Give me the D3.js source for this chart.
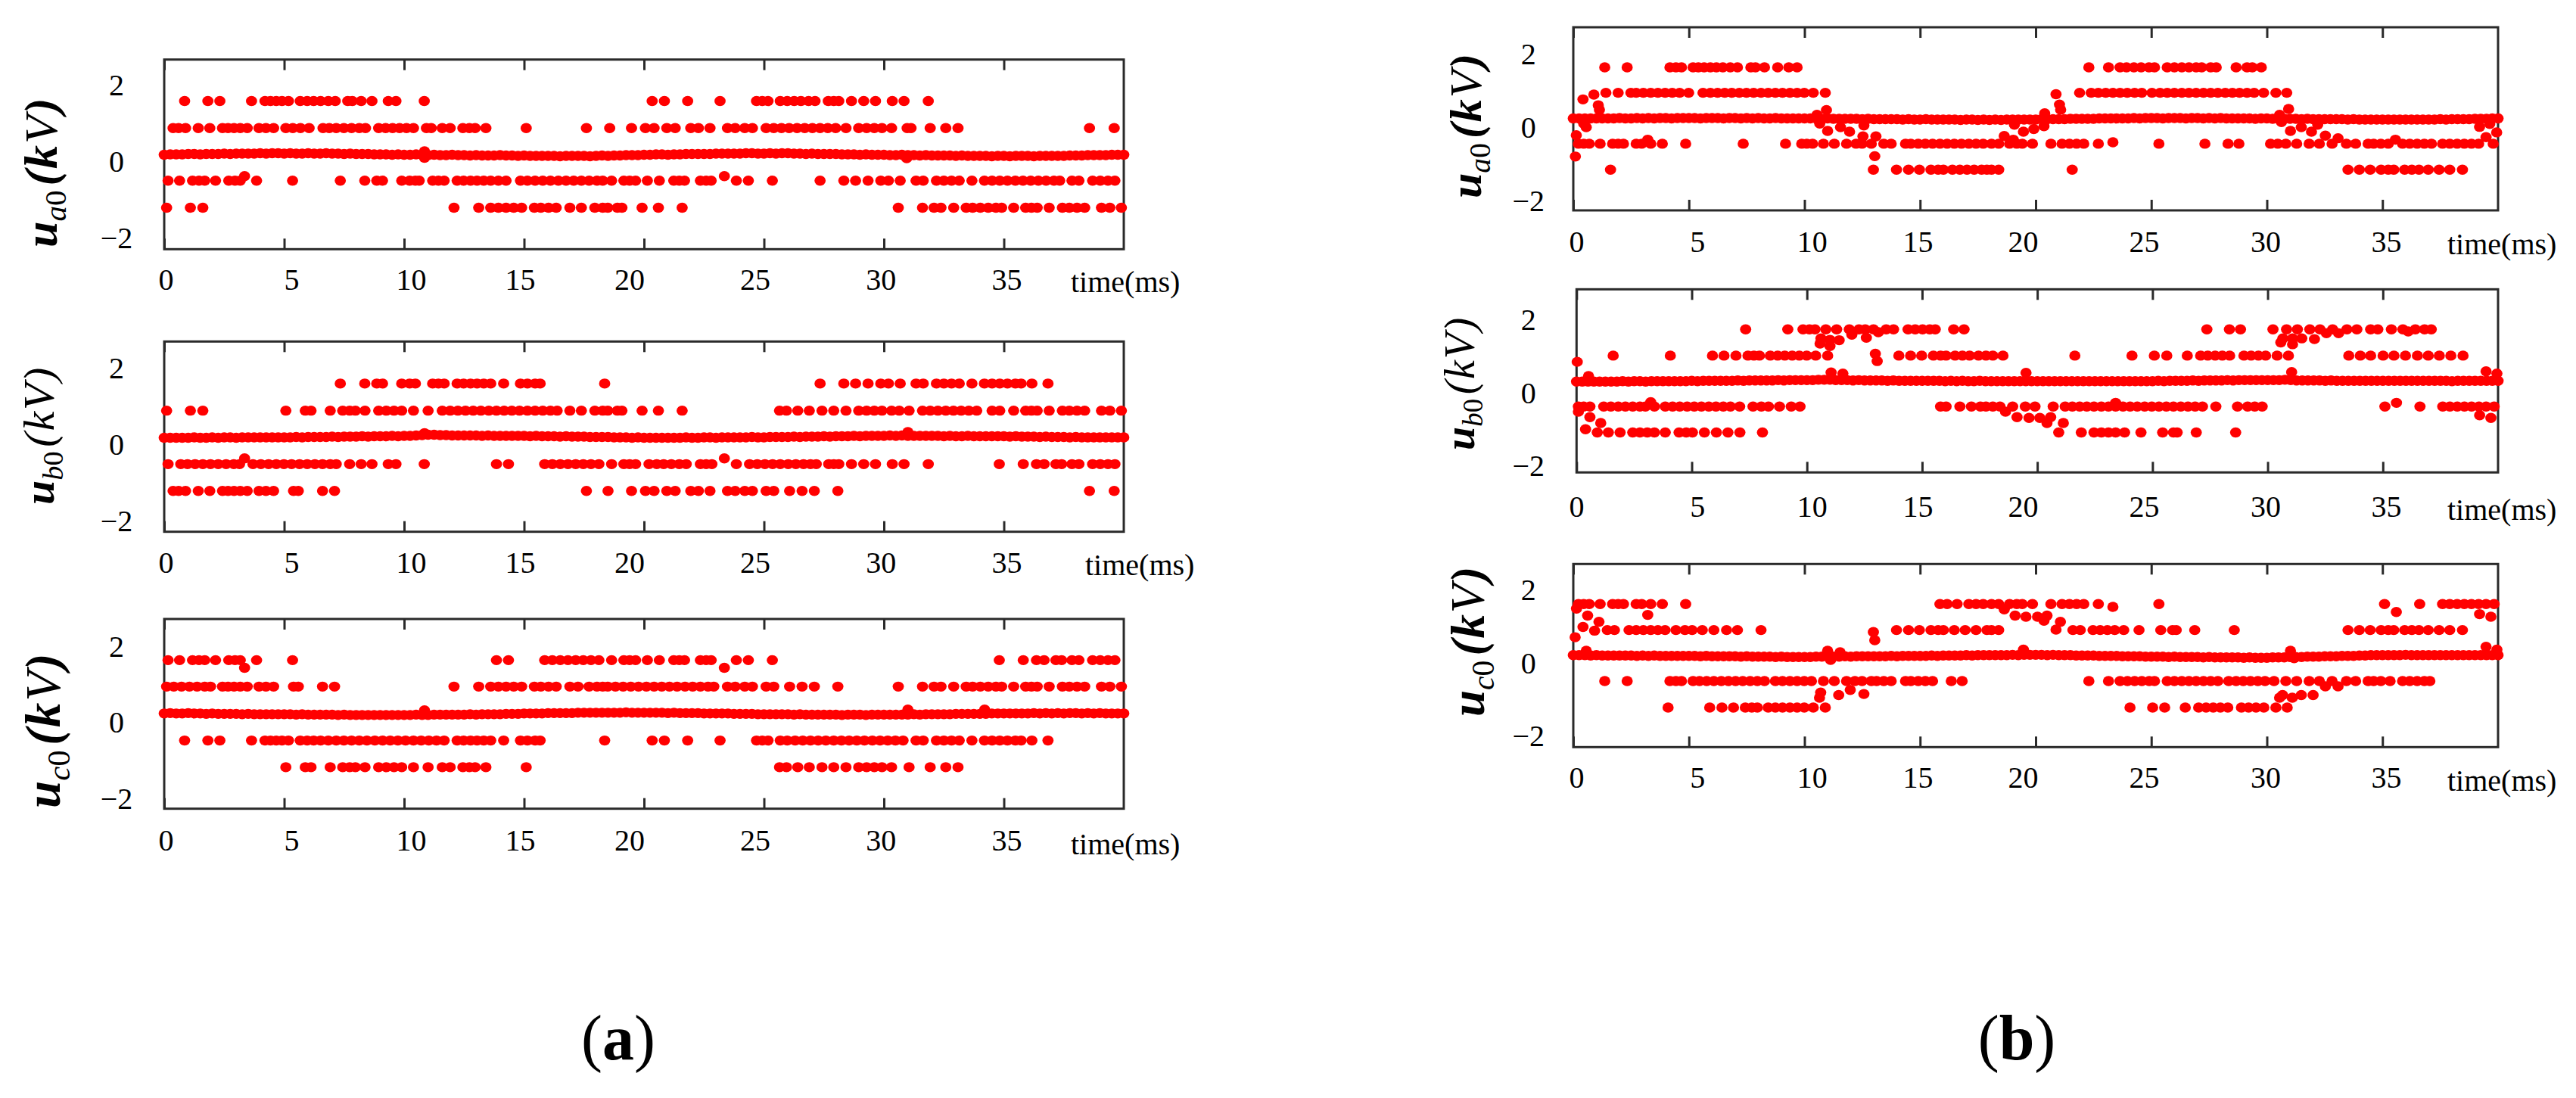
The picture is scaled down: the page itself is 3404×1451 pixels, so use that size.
<!DOCTYPE html>
<html>

<head>
  <meta charset="utf-8">
  <title>Arm voltage deviation, cases (a) and (b)</title>
  <script src="https://d3js.org/d3.v7.min.js"></script>
  <style>
    body {
      margin: 0;
      background: #fff;
    }

    text {
      font-family: "Liberation Serif", serif;
      fill: #000;
    }
  </style>
</head>

<body>
  <svg id="chart" width="3404" height="1451"></svg>
  <script>
    // tick labels
    const xTicks = [0, 5, 10, 15, 20, 25, 30, 35];
    const yTicks = [-2, 0, 2];
    const xUnit = "time(ms)";

    // the band near 0.2 kV, one reading every 0.25 ms
    const midTimes = d3.range(161).map((i) => i / 4);

    const a1Mid = [
      .18, .19, .19, .19, .20, .20, .19, .20, .20, .20, .21, .20, .21, .21, .21, .21, .22, .21, .22, .22,
      .21, .22, .21, .21, .22, .21, .21, .22, .21, .21, .20, .21, .20, .20, .20, .19, .19, .19, .18, .19,
      .18, .18, .19, .18, .17, .18, .17, .17, .18, .17, .17, .16, .17, .16, .16, .16, .17, .16, .16, .15,
      .16, .15, .15, .15, .15, .15, .14, .15, .15, .15, .15, .14, .15, .16, .15, .16, .16, .17, .17, .17,
      .18, .18, .19, .19, .18, .19, .19, .20, .20, .20, .20, .20, .21, .21, .21, .21, .21, .22, .22, .21,
      .21, .22, .21, .22, .22, .21, .21, .20, .21, .20, .20, .20, .20, .19, .19, .19, .18, .19, .18, .18,
      .18, .17, .17, .18, .17, .17, .16, .17, .16, .16, .16, .16, .15, .16, .15, .15, .15, .15, .14, .15,
      .15, .14, .15, .15, .15, .14, .15, .15, .15, .15, .15, .16, .16, .16, .17, .17, .17, .17, .18, .18,
      .18
    ];
    const a2Mid = [
      .16, .16, .16, .16, .16, .17, .16, .16, .17, .16, .17, .17, .16, .17, .17, .17, .17, .17, .17, .17,
      .17, .17, .18, .17, .18, .18, .18, .18, .19, .18, .19, .19, .19, .20, .19, .20, .20, .20, .21, .20,
      .21, .21, .22, .23, .24, .24, .23, .23, .22, .22, .22, .22, .22, .21, .22, .21, .21, .21, .21, .21,
      .21, .20, .21, .20, .20, .20, .19, .20, .19, .19, .19, .18, .18, .18, .18, .17, .17, .17, .16, .17,
      .16, .16, .16, .16, .16, .16, .16, .17, .16, .16, .17, .17, .16, .17, .17, .17, .17, .17, .18, .17,
      .17, .18, .18, .18, .18, .19, .18, .19, .19, .19, .20, .19, .20, .20, .20, .21, .20, .21, .21, .21,
      .21, .22, .21, .22, .21, .21, .21, .21, .21, .21, .20, .21, .20, .20, .21, .20, .20, .20, .20, .20,
      .20, .19, .20, .19, .19, .19, .18, .19, .18, .18, .18, .17, .18, .17, .17, .17, .17, .17, .17, .17,
      .17
    ];
    const a3Mid = [
      .20, .21, .20, .20, .21, .20, .20, .19, .20, .19, .19, .19, .19, .18, .19, .18, .18, .18, .18, .18,
      .18, .18, .17, .18, .17, .17, .17, .17, .17, .16, .17, .16, .16, .16, .16, .16, .16, .16, .16, .16,
      .16, .16, .17, .16, .16, .17, .17, .17, .17, .17, .17, .18, .17, .18, .18, .18, .18, .19, .19, .19,
      .20, .20, .20, .20, .21, .21, .21, .21, .21, .22, .22, .22, .22, .22, .22, .22, .22, .23, .22, .22,
      .22, .22, .22, .22, .21, .22, .21, .21, .21, .21, .20, .20, .20, .20, .20, .19, .19, .19, .19, .18,
      .18, .18, .18, .18, .18, .17, .18, .17, .17, .17, .17, .17, .17, .16, .17, .17, .17, .16, .17, .17,
      .17, .17, .17, .17, .17, .18, .17, .18, .18, .18, .18, .18, .19, .19, .19, .19, .19, .19, .20, .20,
      .20, .20, .20, .20, .20, .21, .20, .21, .20, .21, .20, .21, .21, .20, .21, .20, .21, .20, .20, .20,
      .20
    ];
    const b1Mid = [
      .26, .26, .26, .26, .26, .26, .26, .26, .27, .26, .26, .27, .26, .27, .26, .27, .27, .26, .27, .27,
      .27, .27, .26, .27, .27, .27, .26, .27, .27, .26, .27, .26, .27, .26, .26, .27, .26, .26, .26, .26,
      .26, .26, .26, .25, .26, .25, .25, .25, .25, .25, .24, .25, .24, .24, .24, .24, .24, .23, .24, .23,
      .23, .24, .23, .23, .23, .23, .23, .22, .23, .23, .22, .23, .22, .23, .22, .23, .23, .23, .23, .23,
      .23, .24, .24, .24, .24, .24, .25, .25, .25, .25, .25, .26, .26, .26, .26, .26, .26, .27, .26, .27,
      .27, .27, .26, .27, .27, .27, .26, .27, .27, .26, .27, .26, .27, .26, .26, .26, .26, .26, .25, .26,
      .26, .25, .25, .25, .25, .25, .24, .25, .24, .24, .24, .24, .24, .24, .23, .24, .23, .23, .23, .23,
      .23, .23, .23, .23, .23, .23, .23, .23, .23, .23, .24, .23, .24, .24, .24, .24, .25, .25, .25, .26,
      .26
    ];
    const b2Mid = [
      .23, .23, .23, .23, .23, .23, .23, .23, .24, .23, .24, .24, .23, .24, .24, .24, .24, .24, .24, .24,
      .25, .24, .25, .25, .25, .25, .25, .25, .26, .25, .26, .26, .26, .26, .26, .27, .26, .27, .27, .27,
      .27, .27, .28, .28, .28, .27, .27, .27, .26, .27, .26, .26, .26, .26, .25, .26, .25, .25, .25, .25,
      .25, .25, .25, .25, .24, .25, .24, .25, .24, .24, .25, .24, .24, .24, .24, .24, .24, .24, .24, .24,
      .24, .24, .24, .24, .24, .24, .24, .24, .24, .24, .24, .24, .24, .24, .24, .24, .24, .24, .24, .24,
      .24, .25, .24, .25, .25, .25, .25, .26, .25, .26, .26, .26, .26, .27, .26, .27, .27, .27, .27, .27,
      .27, .27, .27, .28, .27, .26, .26, .26, .26, .26, .25, .26, .25, .25, .25, .25, .25, .25, .25, .25,
      .25, .25, .25, .25, .25, .25, .25, .25, .25, .25, .25, .25, .24, .25, .25, .25, .25, .25, .25, .25,
      .25
    ];
    const b3Mid = [
      .26, .26, .26, .25, .26, .25, .25, .25, .25, .25, .25, .24, .25, .24, .25, .24, .24, .24, .24, .24,
      .24, .24, .23, .24, .23, .23, .23, .23, .23, .22, .23, .22, .22, .22, .22, .21, .22, .21, .21, .21,
      .21, .21, .22, .22, .22, .22, .22, .23, .22, .23, .23, .23, .23, .23, .23, .24, .23, .24, .24, .24,
      .24, .24, .25, .24, .25, .25, .25, .25, .26, .25, .26, .26, .26, .26, .26, .26, .27, .26, .27, .27,
      .27, .27, .26, .27, .26, .26, .26, .25, .25, .25, .25, .24, .24, .24, .24, .23, .23, .23, .23, .22,
      .22, .22, .22, .21, .22, .21, .21, .21, .21, .20, .21, .20, .20, .20, .20, .20, .19, .20, .19, .19,
      .19, .20, .20, .20, .21, .21, .21, .22, .22, .22, .23, .23, .23, .24, .24, .24, .25, .25, .26, .26,
      .26, .26, .26, .26, .27, .26, .26, .26, .26, .26, .26, .26, .26, .26, .26, .26, .26, .26, .26, .26,
      .26
    ];

    // (a) phase a, time stamps of the dots on each voltage level
    const a1Levels = [1.59, .88, -.5, -1.21];
    const a1Hi = [.85, 1.82, 2.32, 3.64, 4.2, 4.43, 4.67, 4.91, 5.18, 5.67, 5.96, 6.23, 6.52, 6.84, 7.13, 7.65, 7.84, 8.21, 8.66, 9.34, 9.66, 10.84,
      20.34, 20.85, 21.82, 23.17, 24.69, 24.93, 25.17, 25.68, 25.97, 26.26, 26.54, 26.86, 27.13, 27.68, 27.91, 28.12, 28.65, 29.16, 29.65, 30.35, 30.84, 31.85];
    const a1Up = [.37, .6, .89, 1.42, 1.9, 2.43, 2.66, 2.91, 3.17, 3.46, 3.95, 4.24, 4.56, 5.07, 5.36, 5.68, 6.04, 6.62, 6.88, 7.17, 7.49, 7.81, 8.13, 8.39, 8.94, 9.23, 9.52, 9.81, 10.1, 10.39, 10.93, 11.13, 11.59, 11.92, 12.45, 12.72, 12.96, 13.41, 15.09, 17.6,
      18.57, 19.48, 20.06, 20.42, 20.95, 21.3, 21.95, 22.27, 22.75, 23.48, 23.8, 24.2, 24.52, 25.09, 25.41, 25.73, 26.05, 26.38, 26.7, 27.02, 27.34, 27.66, 27.99, 28.42, 28.95, 29.28, 29.6, 29.92, 30.32, 30.97, 31.13, 31.93, 32.58, 33.09, 38.57, 39.6];
    const a1Lo = [.16, .64, 1.18, 1.45, 1.69, 2.14, 2.69, 2.95, 3.17, 3.85, 5.35, 7.34, 8.36, 8.86, 9.1, 9.9, 10.23, 10.47, 10.63, 11.19, 11.43, 11.67, 12.21, 12.48, 12.77, 13.04, 13.32, 13.61, 13.93, 14.25, 14.85, 15.14, 15.46, 15.78, 16.1, 16.43, 16.75, 17.07, 17.39, 17.71, 18.04, 18.28,
      18.65, 19.16, 19.4, 19.65, 20.14, 20.64, 21.24, 21.47, 21.69, 22.35, 22.59, 22.8, 23.85, 24.35, 25.35, 27.34, 28.33, 28.82, 29.34, 29.87, 30.19, 30.68, 31.34, 31.64, 32.19, 32.5, 32.82, 33.14, 33.67, 34.19, 34.51, 34.83, 35.15, 35.48, 35.8, 36.12, 36.44, 36.76, 37.09, 37.33, 37.84, 38.13, 38.7, 39.02, 39.34, 39.63];
    const a1Bot = [.1, 1.09, 1.61, 12.08, 13.11, 13.61, 13.93, 14.25, 14.57, 14.9, 15.43, 15.7, 16.02, 16.34, 16.91, 17.39, 17.95, 18.28, 18.49, 18.89, 19.08, 19.92, 20.6, 21.59,
      30.6, 31.61, 32.09, 32.38, 32.91, 33.43, 33.7, 34.02, 34.35, 34.67, 34.91, 35.41, 35.91, 36.15, 36.39, 36.89, 37.44, 37.73, 38.05, 38.37, 39.07, 39.42, 39.9];
    const a1Extra = [[3.35, -.38], [23.35, -.38], [10.85, .27], [10.85, .1], [30.95, .09]];

    // (a) phase b
    const a2Levels = [1.58, .87, -.53, -1.23];
    const a2Hi = [7.34, 8.36, 8.86, 9.1, 9.9, 10.23, 10.47, 11.19, 11.43, 11.67, 12.21, 12.48, 12.77, 13.04, 13.32, 13.61, 14.15, 14.85, 15.14, 15.46, 15.67, 18.36,
      27.34, 28.33, 28.82, 29.34, 29.87, 30.19, 30.68, 31.34, 31.64, 32.19, 32.5, 32.82, 33.14, 33.67, 34.19, 34.51, 34.83, 35.15, 35.48, 35.72, 36.17, 36.84];
    const a2Up = [.1, 1.09, 1.61, 5.07, 5.88, 6.12, 6.92, 7.44, 7.73, 7.97, 8.37, 8.94, 9.26, 9.58, 9.9, 10.39, 11, 11.59, 11.92, 12.24, 12.56, 12.88, 13.2, 13.53, 13.85, 14.17, 14.49, 14.81, 15.14, 15.46, 15.78, 16.1, 16.38, 16.91, 17.39, 17.95, 18.28, 18.49, 18.89, 19.08, 19.92, 20.6, 21.59,
      25.65, 25.94, 26.41, 26.89, 27.42, 27.91, 28.42, 28.95, 29.28, 29.6, 29.92, 30.32, 30.64, 31.05, 31.61, 31.93, 32.25, 32.58, 32.9, 33.22, 33.54, 33.87, 34.51, 34.83, 35.41, 35.91, 36.15, 36.39, 36.89, 37.44, 37.73, 38.05, 38.37, 39.07, 39.42, 39.9];
    const a2Lo = [.16, .69, .97, 1.29, 1.61, 1.93, 2.25, 2.58, 2.9, 3.14, 3.7, 4.03, 4.35, 4.67, 4.99, 5.31, 5.64, 5.96, 6.28, 6.6, 6.92, 7.17, 7.73, 8.21, 8.66, 9.34, 9.66, 10.84, 13.85, 14.35, 15.86, 16.18, 16.51, 16.83, 17.15, 17.47, 17.79, 18.12,
      18.65, 19.16, 19.4, 19.65, 20.21, 20.53, 20.82, 21.14, 21.47, 21.76, 22.35, 22.59, 22.83, 23.85, 24.4, 24.72, 25.04, 25.36, 25.68, 26.01, 26.33, 26.65, 26.94, 27.18, 27.7, 27.91, 28.12, 28.65, 29.16, 29.65, 30.35, 30.84, 31.85, 34.81, 35.81, 36.36, 36.68, 37.17, 37.41, 37.84, 38.13, 38.7, 39.02, 39.34, 39.63];
    const a2Bot = [.37, .6, .89, 1.42, 1.9, 2.43, 2.66, 2.91, 3.17, 3.46, 3.95, 4.24, 4.56, 5.39, 5.59, 6.6, 7.1, 17.6, 18.5,
      19.48, 20.06, 20.42, 20.95, 21.3, 21.95, 22.27, 22.75, 23.48, 23.8, 24.2, 24.52, 25.09, 25.41, 26.07, 26.59, 27.1, 28.08, 38.57, 39.6];
    const a2Extra = [[3.35, -.38], [23.35, -.38], [10.85, .28], [31, .31]];

    // (a) phase c
    const a3Levels = [1.6, .905, -.51, -1.21];
    const a3Hi = [.16, .64, 1.18, 1.45, 1.69, 2.14, 2.69, 2.95, 3.17, 3.85, 5.35, 13.85, 14.35, 15.86, 16.18, 16.51, 16.83, 17.15, 17.47, 17.79, 18.12,
      18.65, 19.16, 19.4, 19.65, 20.14, 20.64, 21.24, 21.47, 21.69, 22.35, 22.59, 22.8, 23.85, 24.35, 25.35, 34.81, 35.81, 36.36, 36.68, 37.17, 37.41, 37.84, 38.13, 38.7, 39.02, 39.34, 39.63];
    const a3Up = [.1, .4, .72, 1.05, 1.37, 1.69, 1.93, 2.43, 2.66, 2.91, 3.17, 3.46, 3.95, 4.24, 4.56, 5.39, 5.59, 6.6, 7.1, 12.08, 13.11, 13.61, 13.93, 14.25, 14.57, 14.9, 15.43, 15.7, 16.02, 16.34, 16.91, 17.25, 17.71, 18.04, 18.28, 18.49, 18.81, 19.13, 19.45, 19.77, 20.1, 20.42, 20.74, 21.06, 21.38, 21.71, 22.03, 22.35, 22.67, 22.91,
      23.48, 23.8, 24.2, 24.52, 25.09, 25.41, 26.07, 26.59, 27.1, 28.08, 30.6, 31.61, 32.09, 32.38, 32.91, 33.43, 33.7, 34.02, 34.35, 34.67, 34.91, 35.41, 35.91, 36.15, 36.39, 36.89, 37.44, 37.73, 38.05, 38.37, 39.07, 39.42, 39.9];
    const a3Lo = [.85, 1.82, 2.32, 3.64, 4.2, 4.43, 4.67, 4.91, 5.18, 5.67, 5.96, 6.23, 6.52, 6.84, 7.17, 7.49, 7.81, 8.13, 8.45, 8.78, 9.1, 9.42, 9.74, 10.06, 10.39, 10.71, 11.03, 11.35, 11.67, 12.21, 12.48, 12.77, 13.04, 13.32, 13.61, 14.15, 14.85, 15.14, 15.46, 15.67, 18.36,
      20.34, 20.85, 21.82, 23.17, 24.69, 24.93, 25.17, 25.68, 25.97, 26.3, 26.62, 26.94, 27.26, 27.58, 27.91, 28.23, 28.55, 28.87, 29.19, 29.52, 29.84, 30.16, 30.48, 30.8, 31.34, 31.64, 32.19, 32.5, 32.82, 33.14, 33.67, 34.19, 34.51, 34.83, 35.15, 35.48, 35.72, 36.17, 36.84];
    const a3Bot = [5.07, 5.88, 6.12, 6.92, 7.44, 7.73, 7.97, 8.37, 8.94, 9.26, 9.58, 9.9, 10.39, 11, 11.59, 11.92, 12.45, 12.72, 12.96, 13.41, 15.09,
      25.65, 25.94, 26.41, 26.89, 27.42, 27.91, 28.42, 28.95, 29.28, 29.6, 29.92, 30.32, 31.05, 31.93, 32.58, 33.09];
    const a3Extra = [[3.35, 1.4], [23.35, 1.4], [10.85, .28], [31, .3], [34.2, .3]];

    // (b) phase a
    const b1Levels = [1.655, .96, -.43, -1.14];
    const b1Hi = [1.36, 2.33, 4.18, 4.44, 4.68, 5.18, 5.41, 5.66, 5.93, 6.19, 6.47, 6.79, 7.1, 7.68, 7.88, 8.27, 8.84, 9.32, 9.68,
      22.3, 23.15, 23.65, 23.93, 24.25, 24.56, 24.9, 25.14, 25.69, 26, 26.32, 26.63, 26.94, 27.18, 27.57, 27.81, 28.67, 29.14, 29.37, 29.76];
    const b1Up = [1.41, 1.94, 2.49, 2.72, 3.03, 3.35, 3.66, 3.97, 4.28, 4.6, 4.99, 5.61, 5.93, 6.24, 6.55, 6.86, 7.18, 7.49, 7.8, 8.12, 8.43, 8.74, 9.05, 9.37, 9.68, 9.99, 10.38, 10.9,
      21.9, 22.4, 22.71, 23.03, 23.34, 23.65, 23.96, 24.28, 24.59, 25.03, 25.38, 25.69, 26, 26.32, 26.63, 26.94, 27.26, 27.57, 27.88, 28.2, 28.51, 28.82, 29.14, 29.45, 29.86, 30.39, 30.86];
    const b1Lo = [.22, .45, .69, 1.16, 1.7, 1.94, 2.17, 2.72, 2.96, 3.35, 3.85, 4.86, 7.35, 9.18, 9.88, 10.1, 10.35, 10.82, 11.29, 11.82, 12.23, 12.49, 12.89, 13.43, 13.75, 14.37, 14.6, 14.92, 15.23, 15.54, 15.86, 16.17, 16.48, 16.79, 17.11, 17.42, 17.73, 18.09, 18.4, 18.87, 19.18, 19.42, 19.86,
      20.66, 21.14, 21.46, 21.77, 22.08, 22.71, 25.33, 27.32, 28.32, 28.79, 30.16, 30.47, 30.82, 31.29, 31.83, 32.27, 32.82, 33.44, 33.84, 34.38, 34.62, 34.93, 35.25, 35.87, 36.18, 36.5, 36.81, 37.12, 37.6, 37.91, 38.23, 38.54, 38.85, 39.16, 39.79];
    const b1Bot = [1.61, 12.98, 13.98, 14.5, 14.97, 15.47, 15.78, 16.01, 16.4, 16.72, 17.03, 17.34, 17.66, 17.89, 18.09, 18.4, 21.58,
      33.51, 34, 34.47, 34.94, 35.25, 35.49, 35.96, 36.27, 36.58, 36.98, 37.45, 37.91, 38.46];
    const b1Extra = [[.42, .78], [.89, .91], [1.08, .62], [1.13, .5], [.56, .02], [.45, .12], [.13, -.2], [.09, -.78],
      [10.54, .36], [10.95, .49], [10.66, .12], [11, -.08], [11.56, .02], [11.95, -.1], [12.57, .07], [12.53, -.23], [13.09, -.23], [13.04, -.77],
      [3.22, -.32], [18.64, -.22], [19.03, -.32], [23.34, -.39], [32.53, -.21], [33.08, -.28], [35.56, -.32], [39.48, -.25], [39.94, -.12], [39.2, .03], [39.64, .11],
      [19.08, .09], [19.47, -.1], [19.92, -.03], [20.36, .05], [20.39, .4], [20.42, .22], [21.03, .64], [21.08, .5], [20.88, .92],
      [30.55, .36], [30.94, .52], [30.63, .16], [31.02, -.08], [31.49, .02], [31.93, -.1], [32.2, .09]];

    // (b) phase b
    const b2Levels = [1.655, .94, -.45, -1.16];
    const b2Hi = [7.34, 9.17, 9.83, 10.11, 10.35, 10.82, 11.29, 11.84, 12.26, 12.53, 12.89, 13.44, 13.76, 14.39, 14.7, 15.02, 15.33, 15.57, 16.37, 16.82,
      27.36, 28.34, 28.82, 30.23, 30.82, 31.29, 31.83, 32.27, 32.82, 33.44, 33.87, 34.47, 34.78, 35.37, 35.87, 36.41, 36.81, 37.1];
    const b2Up = [1.59, 4.07, 5.9, 6.4, 6.92, 7.44, 7.7, 7.94, 8.41, 8.73, 9.04, 9.36, 9.67, 9.99, 10.38, 10.9, 13.99, 14.5, 14.98, 15.49, 15.8, 16.04, 16.43, 16.75, 17.06, 17.45, 17.77, 18.07, 18.51, 21.63,
      24.11, 25.08, 25.62, 26.51, 27.09, 27.4, 27.72, 28.03, 28.35, 28.97, 29.28, 29.6, 29.91, 30.41, 30.9, 33.52, 34.02, 34.47, 35.01, 35.48, 35.98, 36.5, 36.97, 37.45, 37.95, 38.48];
    const b2Lo = [.08, .31, .58, 1.18, 1.49, 1.81, 2.12, 2.44, 2.75, 2.99, 3.38, 3.85, 4.17, 4.48, 4.8, 5.11, 5.42, 5.74, 6.05, 6.37, 6.68, 7.08, 7.66, 8.02, 8.33, 8.81, 9.32, 9.7, 15.8, 16.04, 16.64, 17.14, 17.53, 17.77, 18.07, 18.38,
      18.93, 19.48, 19.9, 20.69, 21.21, 21.52, 21.84, 22.15, 22.46, 22.78, 23.09, 23.4, 23.72, 24.03, 24.34, 24.66, 24.97, 25.28, 25.6, 25.91, 26.23, 26.54, 26.85, 27.17, 27.75, 28.69, 29.13, 29.44, 29.76, 35.09, 36.61, 37.6, 37.91, 38.23, 38.54, 38.85, 39.17, 39.48, 39.83];
    const b2Bot = [.9, 1.38, 1.89, 2.44, 2.75, 3.07, 3.38, 3.85, 4.45, 4.76, 5.03, 5.55, 6.07, 6.57, 7.09, 8.07,
      20.93, 21.91, 22.46, 22.78, 23.09, 23.4, 23.79, 24.5, 25.44, 25.91, 26.07, 26.9, 28.61];
    const b2Extra = [[13.1, 1.58], [32.55, 1.55], [33.08, 1.55], [36.1, 1.6],
      [10.57, 1.27], [10.61, 1.41], [11, 1.2], [11, 1.37], [11.4, 1.36], [11.95, 1.51], [12.58, 1.43],
      [30.57, 1.3], [30.66, 1.41], [31.08, 1.25], [31.08, 1.41], [31.48, 1.41], [32.03, 1.39],
      [.03, .77], [12.97, .99], [13.05, .79], [.52, .38], [11.05, .48], [11.56, .45], [19.51, .47], [31.04, .49], [39.48, .51], [39.95, .45],
      [.08, -.59], [3.22, -.33], [18.62, -.59], [19.12, -.74], [19.64, -.76], [20.11, -.76], [20.42, -.9], [20.58, -.74], [23.4, -.35], [35.59, -.35], [39.2, -.69], [39.69, -.76],
      [.39, -1.07], [.58, -.74], [1.05, -.9], [21.13, -.9]];

    // (b) phase c
    const b3Levels = [1.655, .946, -.446, -1.17];
    const b3Hi = [.22, .45, .69, 1.16, 1.7, 1.94, 2.17, 2.72, 2.96, 3.35, 3.85, 4.86, 15.86, 16.17, 16.6, 17.11, 17.42, 17.73, 18.09, 18.4, 18.87, 19.18, 19.42, 19.86,
      20.66, 21.14, 21.46, 21.77, 22.08, 22.71, 25.33, 35.09, 36.61, 37.6, 37.91, 38.23, 38.54, 38.85, 39.16, 39.48, 39.83];
    const b3Up = [1.47, 1.78, 2.41, 2.72, 3.03, 3.35, 3.66, 3.97, 4.44, 4.83, 5.14, 5.58, 6.08, 6.63, 7.1, 8.12, 13.98, 14.5, 14.97, 15.47, 15.78, 16.01, 16.48, 16.95, 17.42, 17.89, 18.09, 18.4,
      21.61, 21.93, 22.48, 22.79, 23.1, 23.42, 23.81, 24.47, 25.41, 25.92, 26.08, 26.88, 28.59, 33.51, 34, 34.47, 34.94, 35.25, 35.49, 35.96, 36.27, 36.58, 36.98, 37.45, 37.91, 38.46];
    const b3Lo = [1.36, 2.33, 4.18, 4.44, 4.68, 5.18, 5.46, 5.77, 6.08, 6.4, 6.71, 7.02, 7.33, 7.65, 7.96, 8.27, 8.74, 9.05, 9.37, 9.68, 9.99, 10.3, 10.82, 11.29, 11.82, 12.18, 12.49, 12.89, 13.12, 13.43, 13.75, 14.37, 14.6, 14.92, 15.23, 15.54, 16.35, 16.82,
      22.3, 23.15, 23.65, 23.97, 24.28, 24.59, 24.91, 25.14, 25.69, 26, 26.32, 26.63, 26.94, 27.26, 27.57, 27.88, 28.35, 28.67, 28.98, 29.29, 29.61, 29.92, 30.31, 30.82, 31.29, 31.83, 32.27, 32.82, 33.44, 33.84, 34.38, 34.62, 34.93, 35.33, 35.87, 36.18, 36.5, 36.81, 37.05];
    const b3Bot = [4.1, 5.9, 6.43, 6.93, 7.44, 7.72, 7.96, 8.43, 8.74, 9.05, 9.37, 9.68, 9.99, 10.38, 10.9,
      24.08, 25.06, 25.58, 26.47, 27.05, 27.37, 27.68, 27.99, 28.31, 28.9, 29.21, 29.53, 29.87, 30.39, 30.88];
    const b3Extra = [[.14, 1.53], [.62, 1.34], [3.22, 1.36], [18.64, 1.51], [19.11, 1.34], [19.58, 1.31], [20.08, 1.31], [20.36, 1.2], [20.49, 1.34], [23.34, 1.58], [35.6, 1.44], [39.2, 1.38], [39.69, 1.31],
      [.08, .75], [.42, 1.03], [.92, .93], [1.11, 1.17], [12.98, .89], [13.04, .67], [20.88, .96], [21.07, 1.17],
      [10.65, -.9], [10.7, -.76], [11.48, -.83], [11.98, -.69], [12.57, -.8], [30.55, -.9], [30.68, -.83], [31.1, -.9], [31.49, -.83], [32, -.83],
      [32.53, -.59], [33.08, -.59], [.56, .38], [11, .38], [11.13, .13], [11.54, .34], [19.47, .41], [31.02, .38], [31.18, .18], [39.48, .49], [39.95, .41]];

    const svg = d3.select("#chart");

    // where the x labels sit; the figure has them a bit off the ticks
    const aLabelX = [219, 385, 543, 687, 831.6, 997.4, 1163.8, 1330];
    const bLabelX = [2083, 2242.7, 2394.3, 2534, 2673, 2832.9, 2993.6, 3153];

    const panels = [
      {
        sub: "a", left: 217, right: 1485, top: 78.7, bottom: 329.3, yDomain: [-2.3, 2.68], yLabelX: 154, labelDy: 0,
        levels: a1Levels, rows: [a1Hi, a1Up, a1Lo, a1Bot], mid: a1Mid, extra: a1Extra, labelX: aLabelX, labelY: 369.3,
        unitX: 1415, unitY: 372.7, titleX: 75, titleY: 327, titleSize: 62, heavy: true
      },
      {
        sub: "b", left: 217, right: 1485, top: 451.3, bottom: 702.7, yDomain: [-2.3, 2.68], yLabelX: 154, labelDy: .5,
        levels: a2Levels, rows: [a2Hi, a2Up, a2Lo, a2Bot], mid: a2Mid, extra: a2Extra, labelX: aLabelX, labelY: 743.3,
        unitX: 1434, unitY: 746.7, titleX: 71, titleY: 667, titleSize: 58, heavy: false
      },
      {
        sub: "c", left: 217, right: 1485, top: 818, bottom: 1068.7, yDomain: [-2.3, 2.68], yLabelX: 154, labelDy: 2,
        levels: a3Levels, rows: [a3Hi, a3Up, a3Lo, a3Bot], mid: a3Mid, extra: a3Extra, labelX: aLabelX, labelY: 1111,
        unitX: 1415, unitY: 1115, titleX: 79, titleY: 1068, titleSize: 65, heavy: true
      },
      {
        sub: "a", left: 2079, right: 3301, top: 36, bottom: 278, yDomain: [-2.25, 2.75], yLabelX: 2019.7, labelDy: -.7,
        levels: b1Levels, rows: [b1Hi, b1Up, b1Lo, b1Bot], mid: b1Mid, extra: b1Extra, labelX: bLabelX, labelY: 319,
        unitX: 3234, unitY: 322, titleX: 1956.5, titleY: 262, titleSize: 60, heavy: true
      },
      {
        sub: "b", left: 2083.3, right: 3301, top: 382.3, bottom: 624.3, yDomain: [-2.25, 2.75], yLabelX: 2019.7, labelDy: 3.7,
        levels: b2Levels, rows: [b2Hi, b2Up, b2Lo, b2Bot], mid: b2Mid, extra: b2Extra, labelX: bLabelX, labelY: 670,
        unitX: 3234, unitY: 673, titleX: 1948, titleY: 595, titleSize: 56, heavy: false
      },
      {
        sub: "c", left: 2079, right: 3301, top: 745.3, bottom: 987.3, yDomain: [-2.25, 2.75], yLabelX: 2019.7, labelDy: -2.3,
        levels: b3Levels, rows: [b3Hi, b3Up, b3Lo, b3Bot], mid: b3Mid, extra: b3Extra, labelX: bLabelX, labelY: 1028,
        unitX: 3234, unitY: 1031, titleX: 1961, titleY: 947, titleSize: 63, heavy: true
      }
    ];

    const lineColor = "#2a2a2a";

    panels.forEach((p) => {
      const x = d3.scaleLinear().domain([0, 40]).range([p.left, p.right]);
      const y = d3.scaleLinear().domain(p.yDomain).range([p.bottom, p.top]);
      const g = svg.append("g");

      // frame, with short ticks pointing in from top and bottom
      const bottomAxis = d3.axisBottom(x).tickValues(xTicks).tickSize(-14).tickSizeOuter(0).tickPadding(0);
      const topAxis = d3.axisTop(x).tickValues(xTicks).tickSize(-14).tickSizeOuter(0).tickFormat("");

      const gb = g.append("g").attr("transform", `translate(0,${p.bottom})`).call(bottomAxis);
      const gt = g.append("g").attr("transform", `translate(0,${p.top})`).call(topAxis);
      g.selectAll(".domain").remove();
      g.selectAll(".tick line").attr("stroke", lineColor).attr("stroke-width", 3);

      gb.selectAll(".tick text")
        .attr("fill", "#000")
        .attr("font-family", "Liberation Serif")
        .attr("font-size", 40)
        .attr("text-anchor", "middle")
        .attr("dy", null)
        .attr("dominant-baseline", "central")
        .attr("x", (d, i) => p.labelX[i] - x(d))
        .attr("y", p.labelY - p.bottom);

      g.append("rect")
        .attr("x", p.left)
        .attr("y", p.top)
        .attr("width", p.right - p.left)
        .attr("height", p.bottom - p.top)
        .attr("fill", "none")
        .attr("stroke", lineColor)
        .attr("stroke-width", 3);

      // y labels, there are no y ticks in the figure
      g.selectAll(".ylab")
        .data(yTicks)
        .enter()
        .append("text")
        .attr("class", "ylab")
        .attr("x", p.yLabelX)
        .attr("y", (d) => y(d) + p.labelDy)
        .attr("font-size", 40)
        .attr("text-anchor", "middle")
        .attr("dominant-baseline", "central")
        .text((d) => (d < 0 ? "\u2212" + Math.abs(d) : d));

      g.append("text")
        .attr("x", p.unitX)
        .attr("y", p.unitY)
        .attr("font-size", 40)
        .attr("dominant-baseline", "central")
        .text(xUnit);

      // dots
      const points = [];
      midTimes.forEach((t, i) => points.push([t, p.mid[i]]));
      p.rows.forEach((row, i) => row.forEach((t) => points.push([t, p.levels[i]])));
      p.extra.forEach((d) => points.push(d));

      g.selectAll("ellipse")
        .data(points)
        .enter()
        .append("ellipse")
        .attr("cx", (d) => x(d[0]))
        .attr("cy", (d) => y(d[1]))
        .attr("rx", 7.4)
        .attr("ry", 6.7)
        .attr("fill", "#ff0000");

      // rotated y title: u, subscript, (kV)
      const fs = p.titleSize;
      const weight = p.heavy ? "bold" : "normal";
      const title = g.append("text")
        .attr("transform", `translate(${p.titleX},${p.titleY}) rotate(-90)`)
        .attr("font-size", fs)
        .attr("font-style", "italic");
      title.append("tspan").attr("font-weight", "bold").text("u");
      title.append("tspan").attr("font-size", fs * .66).attr("dy", fs * .2).text(p.sub);
      title.append("tspan").attr("font-size", fs * .66).attr("font-style", "normal").text("0");
      const unit = title.append("tspan").attr("dy", -fs * .2).attr("dx", fs * .1).attr("letter-spacing", fs * .03);
      unit.append("tspan").attr("font-weight", weight).text("(");
      unit.append("tspan").attr("font-weight", weight).text("k");
      unit.append("tspan").text("V");
      unit.append("tspan").attr("font-weight", weight).text(")");
    });

    // case letters
    [["a", 817], ["b", 2665]].forEach((c) => {
      const cap = svg.append("text")
        .attr("x", c[1])
        .attr("y", 1400)
        .attr("font-size", 84)
        .attr("text-anchor", "middle");
      cap.append("tspan").text("(");
      cap.append("tspan").attr("font-weight", "bold").text(c[0]);
      cap.append("tspan").text(")");
    });
  </script>
</body>

</html>
